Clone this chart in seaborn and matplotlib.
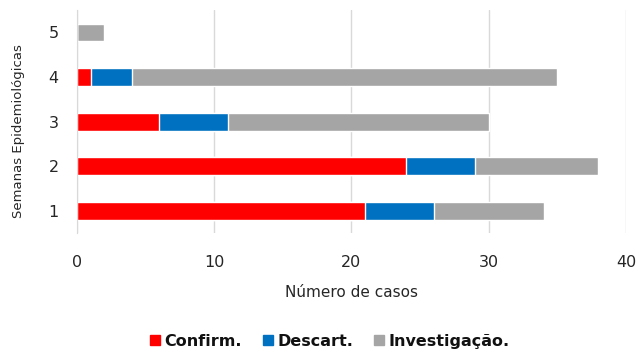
import pandas as pd
import matplotlib
matplotlib.use('Agg')
import matplotlib.pyplot as plt
import seaborn as sns
from matplotlib.patches import Patch

# Dados
semanas = ['1', '2', '3', '4', '5']
confirm = [21, 24, 6, 1, 0]
descart = [5, 5, 5, 3, 0]
investig = [8, 9, 19, 31, 2]

cores = {'Confirm.': '#FF0000', 'Descart.': '#0070C0', 'Investigação.': '#A5A5A5'}

df = pd.DataFrame({'Semana': semanas, 'Confirm.': confirm,
                   'Descart.': descart, 'Investigação.': investig})
df['c1'] = df['Confirm.']
df['c2'] = df['c1'] + df['Descart.']
df['c3'] = df['c2'] + df['Investigação.']

sns.set_style('white')
plt.rcParams['font.family'] = ['DejaVu Sans']

fig, ax = plt.subplots(figsize=(6.4, 3.5), dpi=100)
ordem = semanas[::-1]

# barras empilhadas: desenha do total para o primeiro segmento
for col, nome in [('c3', 'Investigação.'), ('c2', 'Descart.'), ('c1', 'Confirm.')]:
    sns.barplot(data=df, x=col, y='Semana', order=ordem, orient='h',
                color=cores[nome], width=0.4, saturation=1, ax=ax)

ax.set_xlim(0, 40)
ax.set_xticks([0, 10, 20, 30, 40])
ax.grid(axis='x', color='#D9D9D9', linewidth=1)
ax.set_axisbelow(True)
for s in ['top', 'right', 'bottom']:
    ax.spines[s].set_visible(False)
ax.spines['left'].set_color('#D9D9D9')
ax.tick_params(axis='both', length=0, labelsize=11.5, colors='#262626')
ax.tick_params(axis='x', pad=16)
ax.tick_params(axis='y', pad=13)
ax.set_xlabel('Número de casos', fontsize=11, color='#262626')
ax.set_ylabel('Semanas Epidemiológicas', fontsize=9.5, color='#262626')
ax.xaxis.set_label_coords(0.5, -0.233)
ax.yaxis.set_label_coords(-0.095, 0.457)

handles = [Patch(color=c, label=n) for n, c in cores.items()]
fig.legend(handles=handles, loc='center', ncol=3, frameon=False,
           prop={'weight': 'bold', 'size': 11.5}, handlelength=0.65,
           handleheight=0.65, handletextpad=0.25, columnspacing=1.3,
           labelcolor='#111111', bbox_to_anchor=(0.515, 0.025))

plt.subplots_adjust(left=0.12, right=0.978, top=0.971, bottom=0.334)
plt.savefig('out.png', dpi=100)
